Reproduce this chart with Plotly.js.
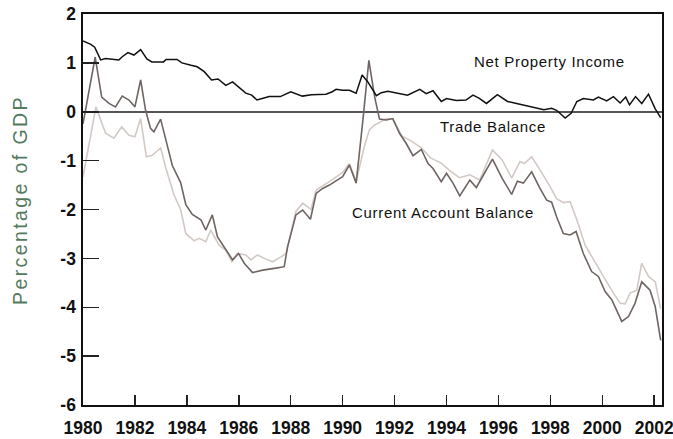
<!DOCTYPE html>
<html>
<head>
<meta charset="utf-8">
<script src="https://cdn.plot.ly/plotly-3.0.1.min.js"></script>
<style>
  html, body { margin: 0; padding: 0; background: #fff; }
  #chart { width: 673px; height: 439px; }
</style>
</head>
<body>
<div id="chart"></div>
<script>
// Net Property Income (% of GDP)
const npiYears = [1980.0,1980.3,1980.45,1980.68,1980.87,1981.1,1981.38,1981.5,1981.73,1981.96,1982.22,1982.46,1982.65,1983.1,1983.2,1983.62,1983.81,1984.16,1984.4,1984.67,1984.95,1985.2,1985.5,1985.76,1986.0,1986.27,1986.5,1986.7,1986.9,1987.17,1987.6,1988.0,1988.45,1988.8,1989.36,1989.6,1989.75,1990.0,1990.26,1990.52,1990.75,1990.97,1991.3,1991.49,1991.74,1992.0,1992.5,1992.97,1993.22,1993.48,1993.8,1994.0,1994.38,1994.75,1995.02,1995.25,1995.54,1995.96,1996.35,1996.7,1997.15,1997.47,1997.75,1998.05,1998.24,1998.57,1998.8,1999.02,1999.27,1999.66,1999.85,2000.17,2000.43,2000.69,2000.9,2001.05,2001.28,2001.52,2001.78,2002.04,2002.25];
const npiValues = [1.45,1.38,1.32,1.06,1.09,1.07,1.06,1.12,1.21,1.16,1.27,1.08,1.02,1.02,1.07,1.07,1.0,0.95,0.92,0.82,0.65,0.67,0.54,0.61,0.50,0.38,0.34,0.24,0.27,0.31,0.31,0.41,0.32,0.35,0.36,0.41,0.46,0.44,0.44,0.38,0.75,0.61,0.33,0.39,0.42,0.39,0.34,0.46,0.37,0.43,0.21,0.27,0.23,0.24,0.34,0.28,0.17,0.35,0.21,0.17,0.11,0.07,0.04,0.07,0.03,-0.13,-0.03,0.21,0.27,0.24,0.30,0.22,0.31,0.18,0.30,0.14,0.31,0.17,0.36,0.06,-0.12];

// Current Account Balance (% of GDP)
const caYears = [1980.0,1980.47,1980.72,1981.0,1981.25,1981.51,1981.77,1982.0,1982.22,1982.41,1982.6,1982.73,1982.99,1983.19,1983.44,1983.76,1983.96,1984.21,1984.54,1984.73,1984.98,1985.18,1985.44,1985.76,1985.99,1986.21,1986.53,1986.92,1987.43,1987.75,1987.88,1988.2,1988.46,1988.76,1988.98,1989.23,1989.49,1990.0,1990.26,1990.52,1990.78,1991.01,1991.23,1991.42,1991.68,1991.93,1992.19,1992.45,1992.71,1993.03,1993.29,1993.48,1993.8,1994.0,1994.25,1994.51,1994.9,1995.15,1995.77,1996.15,1996.51,1996.73,1996.96,1997.28,1997.6,1997.86,1998.05,1998.24,1998.5,1998.76,1998.99,1999.27,1999.59,1999.85,2000.11,2000.37,2000.75,2001.01,2001.26,2001.52,2001.84,2002.04,2002.25];
const caValues = [-0.25,1.12,0.30,0.17,0.10,0.32,0.24,0.10,0.65,0.03,-0.34,-0.41,-0.15,-0.60,-1.10,-1.45,-1.90,-2.10,-2.21,-2.42,-2.11,-2.56,-2.76,-3.03,-2.90,-3.10,-3.29,-3.24,-3.20,-3.17,-2.76,-2.11,-2.01,-2.20,-1.67,-1.57,-1.50,-1.33,-1.09,-1.46,-0.17,1.05,0.31,-0.15,-0.17,-0.14,-0.44,-0.65,-0.90,-0.77,-1.06,-1.16,-1.43,-1.26,-1.46,-1.72,-1.40,-1.55,-0.97,-1.37,-1.69,-1.42,-1.46,-1.23,-1.57,-1.81,-1.85,-2.15,-2.49,-2.52,-2.45,-2.90,-3.27,-3.37,-3.68,-3.85,-4.29,-4.19,-3.92,-3.48,-3.65,-3.99,-4.68];

// Trade Balance (% of GDP)
const tbYears = [1980.0,1980.5,1980.87,1981.19,1981.49,1981.77,1982.0,1982.22,1982.44,1982.67,1982.99,1983.19,1983.5,1983.76,1983.96,1984.28,1984.47,1984.73,1984.92,1985.24,1985.5,1985.73,1985.95,1986.27,1986.47,1986.72,1986.98,1987.3,1987.63,1987.82,1987.95,1988.2,1988.46,1988.78,1988.98,1989.49,1990.0,1990.26,1990.52,1990.84,1991.03,1991.23,1991.42,1991.68,1991.93,1992.29,1992.65,1993.03,1993.4,1993.8,1994.16,1994.5,1994.9,1995.28,1995.77,1996.15,1996.51,1996.83,1997.0,1997.28,1997.6,1997.99,1998.24,1998.5,1998.76,1999.02,1999.34,1999.66,1999.91,2000.17,2000.43,2000.69,2000.88,2001.07,2001.33,2001.52,2001.78,2002.04,2002.25];
const tbValues = [-1.33,0.10,-0.44,-0.54,-0.31,-0.48,-0.51,-0.14,-0.92,-0.89,-0.74,-1.15,-1.70,-2.00,-2.49,-2.64,-2.59,-2.66,-2.42,-2.73,-2.83,-3.07,-2.90,-2.93,-3.03,-2.93,-3.00,-3.07,-2.97,-2.90,-2.62,-2.04,-1.87,-2.00,-1.60,-1.43,-1.24,-1.06,-1.43,-0.70,-0.37,-0.27,-0.22,-0.14,-0.15,-0.50,-0.60,-0.74,-0.95,-1.05,-1.22,-1.35,-1.29,-1.40,-0.78,-0.99,-1.36,-1.02,-1.06,-0.92,-1.19,-1.53,-1.78,-1.86,-1.84,-2.21,-2.73,-3.03,-3.24,-3.48,-3.71,-3.92,-3.93,-3.71,-3.65,-3.10,-3.37,-3.48,-4.03];

const xTickVals = [1980,1982,1984,1986,1988,1990,1992,1994,1996,1998,2000,2002];
const xTickText = ['1980','1982','1984','1986','1988','1990','1992','1994','1996','1998','2000','2002'];
const yTickVals = [-6,-5,-4,-3,-2,-1,0,1,2];
const yTickText = ['-6','-5','-4','-3','-2','-1','0','1','2'];

const seriesNames = ['Net Property Income','Trade Balance','Current Account Balance'];
const yTitle = 'Percentage of GDP';

const tickFont = {family: 'Liberation Sans, Arial, sans-serif', size: 17.5, weight: 700, color: '#111'};
const labelFont = {family: 'Liberation Sans, Arial, sans-serif', size: 15, color: '#111'};

const traces = [
  {x: tbYears, y: tbValues, type: 'scatter', mode: 'lines', name: seriesNames[1],
   line: {color: '#d3c9c5', width: 1.6}},
  {x: caYears, y: caValues, type: 'scatter', mode: 'lines', name: seriesNames[2],
   line: {color: '#6f6563', width: 1.6}},
  {x: npiYears, y: npiValues, type: 'scatter', mode: 'lines', name: seriesNames[0],
   line: {color: '#111111', width: 1.5}}
];

const layout = {
  width: 673, height: 439,
  margin: {l: 83, r: 11, t: 14, b: 34},
  paper_bgcolor: '#ffffff', plot_bgcolor: '#ffffff',
  showlegend: false,
  xaxis: {
    range: [1980, 2002.3], showgrid: false, zeroline: false,
    showline: true, mirror: true, linecolor: '#111', linewidth: 1.6,
    ticks: 'inside', ticklen: 10, tickwidth: 1.5, tickcolor: '#222',
    tickvals: xTickVals, ticktext: xTickText, tickfont: tickFont,
    ticklabelstandoff: 6, ticklabeloverflow: 'allow', automargin: false
  },
  yaxis: {
    range: [-6, 2], showgrid: false,
    zeroline: true, zerolinecolor: '#555', zerolinewidth: 2,
    showline: true, mirror: true, linecolor: '#111', linewidth: 1.6,
    ticks: 'inside', ticklen: 16, tickwidth: 1.5, tickcolor: '#222',
    tickvals: yTickVals, ticktext: yTickText, tickfont: tickFont,
    ticklabelstandoff: 2, ticklabeloverflow: 'allow', automargin: false
  },
  annotations: [
    {text: '<span style="letter-spacing:2.4px">' + yTitle + '</span>', xref: 'paper', yref: 'paper',
     x: -0.109, y: 0.524, xanchor: 'center', yanchor: 'middle', textangle: -90, showarrow: false,
     font: {family: 'Liberation Sans, Arial, sans-serif', size: 19.5, color: '#557a5e'}},
    {text: '<span style="letter-spacing:0.7px">' + seriesNames[0] + '</span>', x: 1997.98, y: 1.02, xref: 'x', yref: 'y',
     showarrow: false, xanchor: 'center', yanchor: 'middle', font: labelFont},
    {text: '<span style="letter-spacing:0.7px">' + seriesNames[1] + '</span>', x: 1995.78, y: -0.31, xref: 'x', yref: 'y',
     showarrow: false, xanchor: 'center', yanchor: 'middle', font: labelFont},
    {text: '<span style="letter-spacing:0.7px">' + seriesNames[2] + '</span>', x: 1993.85, y: -2.07, xref: 'x', yref: 'y',
     showarrow: false, xanchor: 'center', yanchor: 'middle', font: labelFont}
  ]
};

Plotly.newPlot('chart', traces, layout, {displayModeBar: false, staticPlot: true});
</script>
</body>
</html>
